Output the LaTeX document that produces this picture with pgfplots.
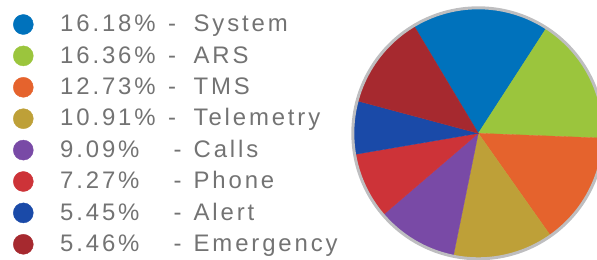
\documentclass[border=0pt]{standalone}
\usepackage{fontspec}
\setmainfont{Liberation Sans}[LetterSpace=12]
\usepackage{pgfplots}
\pgfplotsset{compat=1.18}
\definecolor{cSys}{RGB}{0,114,188}
\definecolor{cARS}{RGB}{155,197,61}
\definecolor{cTMS}{RGB}{229,99,45}
\definecolor{cTel}{RGB}{190,160,56}
\definecolor{cCal}{RGB}{121,74,166}
\definecolor{cPho}{RGB}{205,51,56}
\definecolor{cAle}{RGB}{26,74,168}
\definecolor{cEme}{RGB}{166,41,47}
\definecolor{txt}{RGB}{115,115,115}
\definecolor{rim}{RGB}{190,190,192}
\begin{document}
\begin{tikzpicture}
\begin{axis}[width=597bp,height=260bp,scale only axis,
  xmin=0,xmax=597,ymin=0,ymax=260,hide axis,clip=true]
\path (rel axis cs:0,0) rectangle (rel axis cs:1,1);
% pie wedges (angles in degrees, clockwise from 120.9)
\addplot[fill=cSys,draw=cSys,line width=0.3pt,domain=57.1:120.9,samples=40] ({478.3+125*cos(x)},{126.7+125*sin(x)}) -- (478.3,126.7) -- cycle;
\addplot[fill=cARS,draw=cARS,line width=0.3pt,domain=-2.2:57.1,samples=40] ({478.3+125*cos(x)},{126.7+125*sin(x)}) -- (478.3,126.7) -- cycle;
\addplot[fill=cTMS,draw=cTMS,line width=0.3pt,domain=-54.8:-2.2,samples=40] ({478.3+125*cos(x)},{126.7+125*sin(x)}) -- (478.3,126.7) -- cycle;
\addplot[fill=cTel,draw=cTel,line width=0.3pt,domain=-101.5:-54.8,samples=40] ({478.3+125*cos(x)},{126.7+125*sin(x)}) -- (478.3,126.7) -- cycle;
\addplot[fill=cCal,draw=cCal,line width=0.3pt,domain=-139.4:-101.5,samples=40] ({478.3+125*cos(x)},{126.7+125*sin(x)}) -- (478.3,126.7) -- cycle;
\addplot[fill=cPho,draw=cPho,line width=0.3pt,domain=-170.3:-139.4,samples=40] ({478.3+125*cos(x)},{126.7+125*sin(x)}) -- (478.3,126.7) -- cycle;
\addplot[fill=cAle,draw=cAle,line width=0.3pt,domain=165.0:189.7,samples=40] ({478.3+125*cos(x)},{126.7+125*sin(x)}) -- (478.3,126.7) -- cycle;
\addplot[fill=cEme,draw=cEme,line width=0.3pt,domain=120.9:165.0,samples=40] ({478.3+125*cos(x)},{126.7+125*sin(x)}) -- (478.3,126.7) -- cycle;
\addplot[draw=rim,line width=3bp,domain=0:360,samples=181] ({478.3+125.5*cos(x)},{126.7+125.5*sin(x)}) -- cycle;
% legend dots
\addplot[only marks,mark=*,mark size=10bp,color=cSys,mark options={draw=none,fill=cSys}] coordinates {(23.3,235.5)};
\addplot[only marks,mark=*,mark size=10bp,color=cARS,mark options={draw=none,fill=cARS}] coordinates {(23.3,204.1)};
\addplot[only marks,mark=*,mark size=10bp,color=cTMS,mark options={draw=none,fill=cTMS}] coordinates {(23.3,172.7)};
\addplot[only marks,mark=*,mark size=10bp,color=cTel,mark options={draw=none,fill=cTel}] coordinates {(23.3,141.3)};
\addplot[only marks,mark=*,mark size=10bp,color=cCal,mark options={draw=none,fill=cCal}] coordinates {(23.3,109.9)};
\addplot[only marks,mark=*,mark size=10bp,color=cPho,mark options={draw=none,fill=cPho}] coordinates {(23.3,78.5)};
\addplot[only marks,mark=*,mark size=10bp,color=cAle,mark options={draw=none,fill=cAle}] coordinates {(23.3,47.1)};
\addplot[only marks,mark=*,mark size=10bp,color=cEme,mark options={draw=none,fill=cEme}] coordinates {(23.3,15.7)};
% legend text
\tikzset{lt/.style={anchor=base west,inner sep=0pt,text=txt,font=\fontsize{24}{28}\selectfont}}
\node[lt] at (60,228.3) {16.18\%};
\node[lt] at (60,196.9) {16.36\%};
\node[lt] at (60,165.5) {12.73\%};
\node[lt] at (60,134.1) {10.91\%};
\node[lt] at (60,102.7) {9.09\%};
\node[lt] at (60,71.3) {7.27\%};
\node[lt] at (60,39.9) {5.45\%};
\node[lt] at (60,8.5) {5.46\%};
\node[lt] at (168,228.3) {-};
\node[lt] at (168,196.9) {-};
\node[lt] at (168,165.5) {-};
\node[lt] at (168,134.1) {-};
\node[lt] at (173.5,102.7) {-};
\node[lt] at (173.5,71.3) {-};
\node[lt] at (173.5,39.9) {-};
\node[lt] at (173.5,8.5) {-};
\node[lt] at (193.5,228.3) {System};
\node[lt] at (193.5,196.9) {ARS};
\node[lt] at (193.5,165.5) {TMS};
\node[lt] at (193.5,134.1) {Telemetry};
\node[lt] at (193.5,102.7) {Calls};
\node[lt] at (193.5,71.3) {Phone};
\node[lt] at (193.5,39.9) {Alert};
\node[lt] at (193.5,8.5) {Emergency};
\end{axis}
\end{tikzpicture}
\end{document}
